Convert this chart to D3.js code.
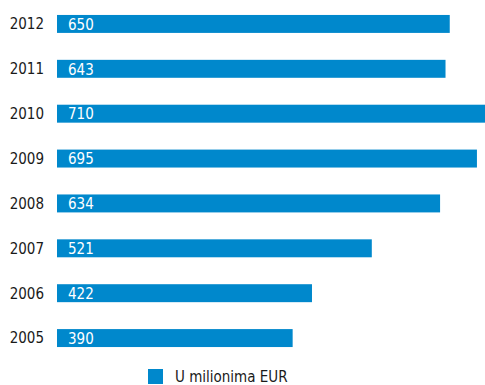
<!DOCTYPE html>
<html>
<head>
<meta charset="utf-8">
<script src="https://cdn.jsdelivr.net/npm/d3@7"></script>
<style>
  body { margin: 0; background: #fff; }
  text { font-family: "Liberation Sans Narrow", "DejaVu Sans Condensed", sans-serif; }
</style>
</head>
<body>
<div class="chart"></div>
<script>
var years = ["2012", "2011", "2010", "2009", "2008", "2007", "2006", "2005"];
var values = [650, 643, 710, 695, 634, 521, 422, 390];
var legendLabel = "U milionima EUR";

var width = 485, height = 385;
var barColor = "#0088cc";

var svg = d3.select(".chart").append("svg")
    .attr("width", width)
    .attr("height", height);

var x = d3.scaleLinear()
    .domain([0, 710])
    .range([57, 486]);

var y = d3.scaleBand()
    .domain(years)
    .range([1.5, 360.5])
    .paddingInner(0.6)
    .paddingOuter(0.3);

var rows = svg.selectAll("g.row")
    .data(years)
    .enter().append("g")
    .attr("class", "row");

rows.append("rect")
    .attr("x", x(0))
    .attr("y", d => y(d))
    .attr("height", y.bandwidth())
    .attr("width", (d, i) => x(values[i]) - x(0))
    .style("fill", barColor);

rows.append("text")
    .attr("x", 44)
    .attr("y", d => y(d) + y.bandwidth() / 2)
    .attr("dy", "0.36em")
    .attr("text-anchor", "end")
    .style("font-size", "15px")
    .style("fill", "#1a1a1a")
    .text(d => d);

rows.append("text")
    .attr("x", x(0) + 11)
    .attr("y", d => y(d) + y.bandwidth() / 2)
    .attr("dy", "0.38em")
    .style("font-size", "15px")
    .style("fill", "#fff")
    .text((d, i) => values[i]);

// legend
var legend = svg.append("g")
    .attr("transform", "translate(148,369)");

legend.append("rect")
    .attr("width", 15)
    .attr("height", 15)
    .style("fill", barColor);

legend.append("text")
    .attr("x", 27)
    .attr("y", 7.5)
    .attr("dy", "0.36em")
    .style("font-size", "15px")
    .style("fill", "#1a1a1a")
    .text(legendLabel);
</script>
</body>
</html>
